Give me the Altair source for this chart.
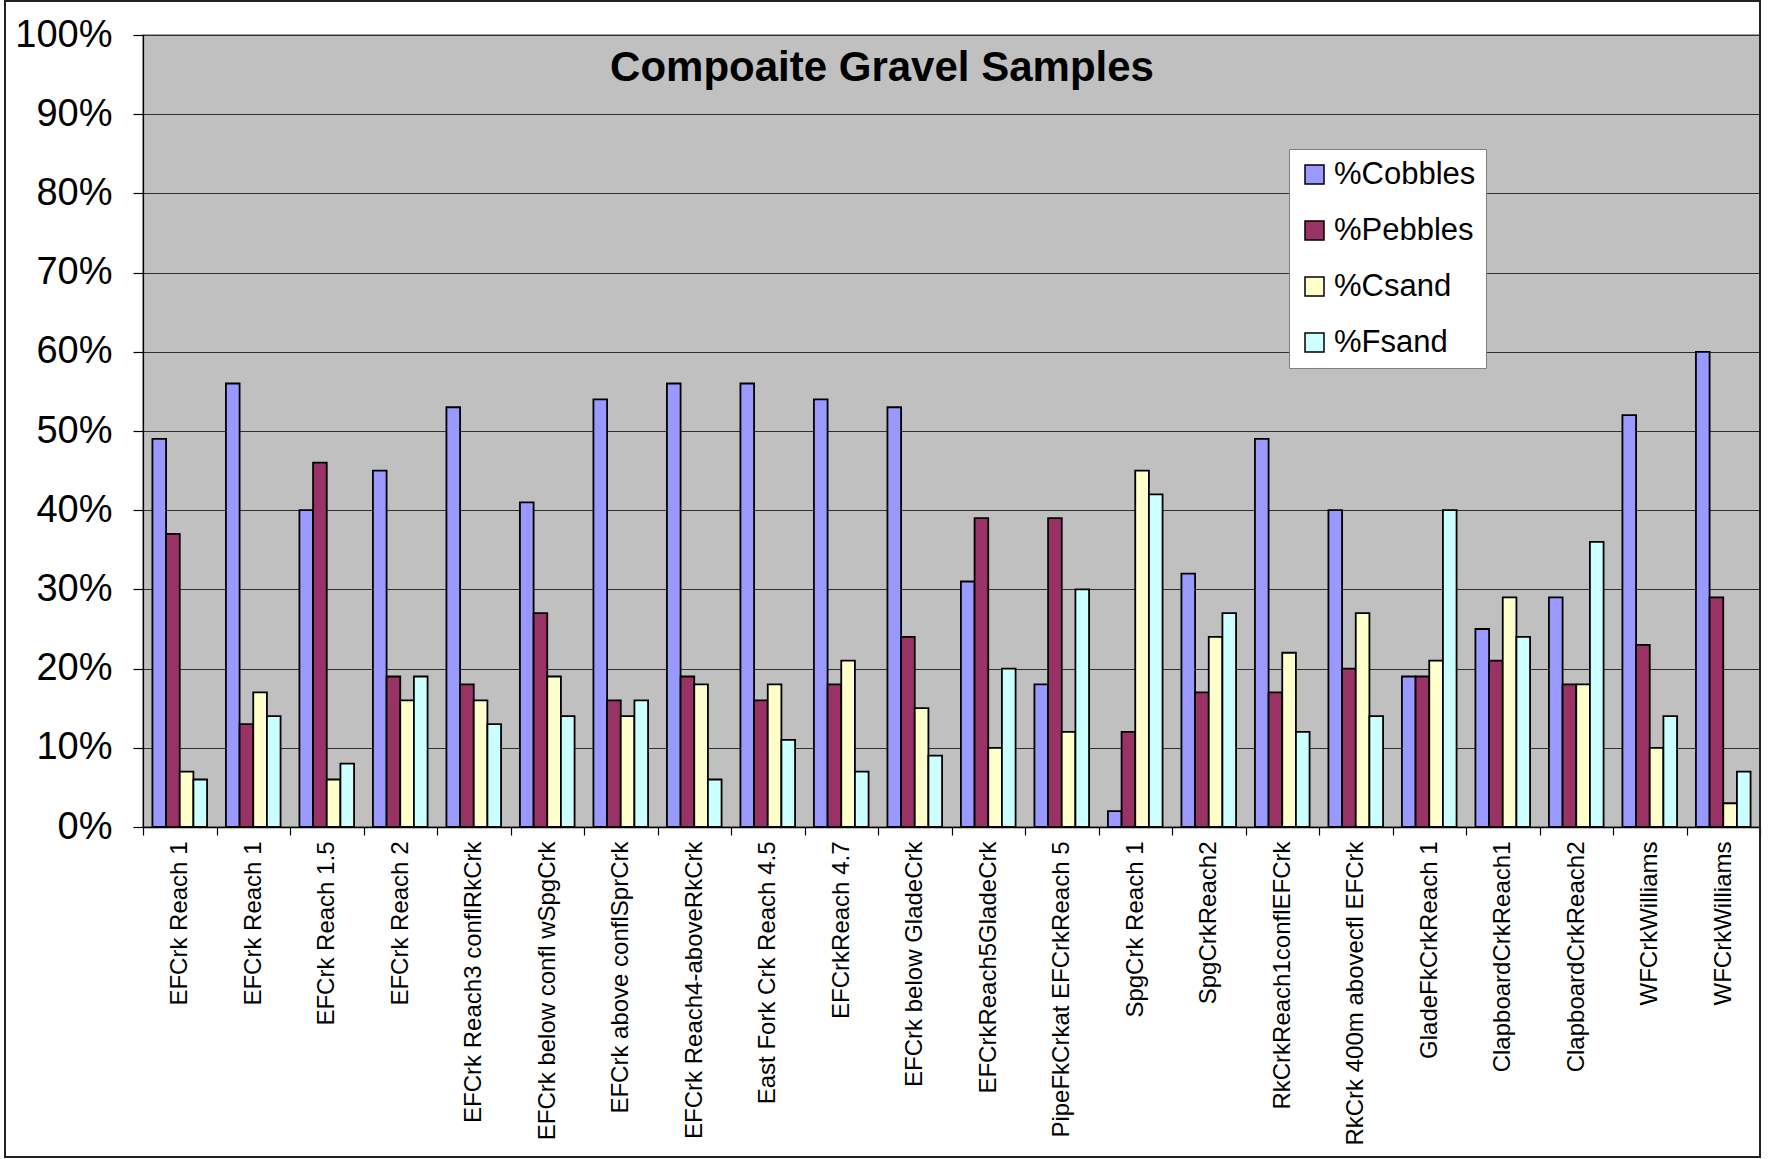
import json

import altair as alt
import pandas as pd

# Sampling sites, left to right along the x axis
SITES = [
    "EFCrk Reach 1",
    "EFCrk Reach 1",
    "EFCrk Reach 1.5",
    "EFCrk Reach 2",
    "EFCrk Reach3 conflRkCrk",
    "EFCrk below confl wSpgCrk",
    "EFCrk above conflSprCrk",
    "EFCrk Reach4-aboveRkCrk",
    "East Fork Crk Reach 4.5",
    "EFCrkReach 4.7",
    "EFCrk below GladeCrk",
    "EFCrkReach5GladeCrk",
    "PipeFkCrkat EFCrkReach 5",
    "SpgCrk Reach 1",
    "SpgCrkReach2",
    "RkCrkReach1conflEFCrk",
    "RkCrk 400m abovecfl EFCrk",
    "GladeFkCrkReach 1",
    "ClapboardCrkReach1",
    "ClapboardCrkReach2",
    "WFCrkWilliams",
    "WFCrkWilliams",
]

# Percent of each size fraction per site
COBBLES = [49, 56, 40, 45, 53, 41, 54, 56, 56, 54, 53, 31, 18, 2, 32, 49, 40, 19, 25, 29, 52, 60]
PEBBLES = [37, 13, 46, 19, 18, 27, 16, 19, 16, 18, 24, 39, 39, 12, 17, 17, 20, 19, 21, 18, 23, 29]
CSAND = [7, 17, 6, 16, 16, 19, 14, 18, 18, 21, 15, 10, 12, 45, 24, 22, 27, 21, 29, 18, 10, 3]
FSAND = [6, 14, 8, 19, 13, 14, 16, 6, 11, 7, 9, 20, 30, 42, 27, 12, 14, 40, 24, 36, 14, 7]

SERIES = ["%Cobbles", "%Pebbles", "%Csand", "%Fsand"]
COLORS = ["#9999FF", "#993366", "#FFFFCC", "#CCFFFF"]
Y_TICKS = list(range(0, 101, 10))
TITLE = "Compoaite Gravel Samples"

FONT = "Liberation Sans"

rows = []
for i, site in enumerate(SITES):
    for name, vals in zip(SERIES, [COBBLES, PEBBLES, CSAND, FSAND]):
        rows.append({"idx": i, "site": site, "fraction": name, "pct": vals[i]})
df = pd.DataFrame(rows)

site_lookup = json.dumps(SITES)

bars = alt.Chart(df).mark_bar(stroke="black", strokeWidth=1.8).encode(
    x=alt.X(
        "idx:O",
        sort="ascending",
        scale=alt.Scale(paddingInner=0, paddingOuter=0),
        axis=alt.Axis(
            title=None,
            labelExpr=f"{site_lookup}[datum.value]",
            labelAngle=270,
            labelFont=FONT,
            labelFontSize=24,
            labelColor="black",
            labelPadding=6,
            labelLimit=600,
            tickBand="extent",
            tickSize=8,
            tickColor="black",
            tickWidth=1.2,
            domainColor="black",
            domainWidth=1.5,
            grid=False,
        ),
    ),
    xOffset=alt.XOffset(
        "fraction:N",
        sort=SERIES,
        scale=alt.Scale(paddingInner=0, paddingOuter=0.69),
    ),
    y=alt.Y(
        "pct:Q",
        scale=alt.Scale(domain=[0, 100], nice=False),
        axis=alt.Axis(
            title=None,
            values=Y_TICKS,
            labelExpr="datum.value + '%'",
            labelFont=FONT,
            labelFontSize=38,
            labelColor="black",
            labelPadding=21,
            tickSize=10,
            tickColor="black",
            tickWidth=1.2,
            domainColor="black",
            domainWidth=1.2,
            grid=True,
            gridColor="#303030",
            gridWidth=1.2,
        ),
    ),
    color=alt.Color(
        "fraction:N",
        sort=SERIES,
        scale=alt.Scale(domain=SERIES, range=COLORS),
        legend=alt.Legend(
            title=None,
            orient="none",
            legendX=1146,
            legendY=114,
            fillColor="white",
            strokeColor="#808080",
            padding=10,
            labelFont=FONT,
            labelFontSize=31,
            labelColor="black",
            labelOffset=4,
            symbolType="square",
            symbolSize=361,
            symbolStrokeColor="black",
            symbolStrokeWidth=1.5,
            symbolOpacity=1,
            rowPadding=24,
        ),
    ),
)

title = alt.Chart(pd.DataFrame({"t": [TITLE]})).mark_text(
    font=FONT,
    fontSize=42,
    fontWeight="bold",
    color="black",
    align="center",
    baseline="alphabetic",
).encode(text="t:N", x=alt.value(739), y=alt.value(46))

# Outer frame around the whole figure
frame = alt.Chart(pd.DataFrame({"f": [0]})).mark_rect(
    fill=None, fillOpacity=0, stroke="#222222", strokeWidth=2
).encode(
    x=alt.value(-138),
    x2=alt.value(1617),
    y=alt.value(-34),
    y2=alt.value(1122),
)

chart = (
    alt.layer(bars, title, frame)
    .properties(
        width=1617,
        height=792,
        padding={"left": 143, "top": 35, "right": 9, "bottom": 332},
        autosize=alt.AutoSizeParams(type="none"),
        background="white",
    )
    .configure_view(fill="#C0C0C0", stroke="#808080", strokeWidth=1.5)
)

chart.save("out.html", embed_options={"renderer": "svg", "actions": False})
